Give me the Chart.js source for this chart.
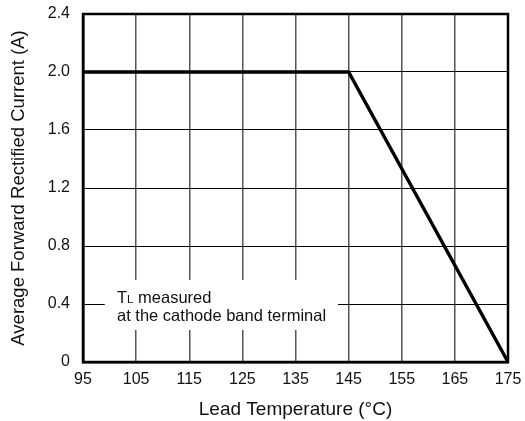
<!DOCTYPE html>
<html>
<head>
<meta charset="utf-8">
<script src="https://cdn.jsdelivr.net/npm/chart.js@4/dist/chart.umd.min.js"></script>
<style>
  html, body { margin: 0; padding: 0; background: #fff; }
  #wrap { width: 525px; height: 421px; }
</style>
</head>
<body>
<div id="wrap"><canvas id="derating"></canvas></div>
<script>
// derating curve
const leadTemp = [95, 145, 175];
const avgCurrent = [2.0, 2.0, 0];

const xTicks = [95, 105, 115, 125, 135, 145, 155, 165, 175];
const yTicks = [0, 0.4, 0.8, 1.2, 1.6, 2.0, 2.4];

const noteLines = ["measured", "at the cathode band terminal"];

const FONT = "'Liberation Sans', Arial, Helvetica, sans-serif";

// white box with the note, placed in axis units
const notePlugin = {
    id: "note",
    beforeDatasetsDraw(chart) {
        const { ctx, scales } = chart;
        const x0 = scales.x.getPixelForValue(99.1);
        const x1 = scales.x.getPixelForValue(143.0);
        const y0 = scales.y.getPixelForValue(0.566);
        const y1 = scales.y.getPixelForValue(0.221);
        ctx.save();
        ctx.fillStyle = "#fff";
        ctx.fillRect(x0, y0, x1 - x0, y1 - y0);
        ctx.fillStyle = "#111";
        ctx.textBaseline = "alphabetic";
        const tx = scales.x.getPixelForValue(101.4);
        const ty1 = scales.y.getPixelForValue(0.407);
        const ty2 = scales.y.getPixelForValue(0.283);
        ctx.font = "16.5px " + FONT;
        ctx.fillText("T", tx, ty1);
        let w = ctx.measureText("T").width;
        ctx.font = "11.5px " + FONT;
        ctx.fillText("L", tx + w, ty1);
        w += ctx.measureText("L").width;
        ctx.font = "16.5px " + FONT;
        ctx.fillText(" " + noteLines[0], tx + w, ty1);
        ctx.fillText(noteLines[1], tx, ty2);
        ctx.restore();
    },
    afterDraw(chart) {
        const { ctx, chartArea: a } = chart;
        ctx.save();
        ctx.strokeStyle = "#000";
        ctx.lineWidth = 2.5;
        ctx.strokeRect(a.left, a.top, a.right - a.left, a.bottom - a.top);
        ctx.restore();
    },
};

new Chart(document.getElementById("derating").getContext("2d"), {
    type: "line",
    data: {
        datasets: [
            {
                data: leadTemp.map((t, i) => ({ x: t, y: avgCurrent[i] })),
                borderColor: "#000",
                borderWidth: 3.4,
                pointRadius: 0,
                fill: false,
                tension: 0,
            },
        ],
    },
    options: {
        responsive: true,
        maintainAspectRatio: false,
        animation: false,
        layout: { padding: { top: 14, right: 17, bottom: 0, left: 0 } },
        plugins: { legend: { display: false }, tooltip: { enabled: false } },
        scales: {
            x: {
                type: "linear",
                min: 95,
                max: 175,
                afterBuildTicks: (s) => { s.ticks = xTicks.map((v) => ({ value: v })); },
                afterFit: (s) => {
                    s.height = 59;
                    s.paddingLeft = 0;
                    s.paddingRight = 0;
                },
                grid: { color: "#555", lineWidth: 1.5, drawTicks: false },
                border: { color: "#000", width: 2.5 },
                ticks: {
                    color: "#111",
                    padding: 8,
                    font: { family: FONT, size: 16 },
                    maxRotation: 0,
                },
                title: {
                    display: true,
                    text: "Lead Temperature (°C)",
                    color: "#111",
                    font: { family: FONT, size: 19 },
                    padding: { top: 4, bottom: 0 },
                },
            },
            y: {
                min: 0,
                max: 2.4,
                afterBuildTicks: (s) => { s.ticks = yTicks.map((v) => ({ value: v })); },
                afterFit: (s) => {
                    s.width = 83;
                    s.paddingTop = 0;
                    s.paddingBottom = 0;
                },
                grid: { color: "#000", lineWidth: 1, drawTicks: false },
                border: { color: "#000", width: 2.5 },
                ticks: {
                    color: "#111",
                    padding: 13,
                    font: { family: FONT, size: 16 },
                    callback: (v) => (v === 0 ? "0" : v.toFixed(1)),
                },
                title: {
                    display: true,
                    text: "Average Forward Rectified Current (A)",
                    color: "#111",
                    font: { family: FONT, size: 18.5 },
                    padding: { top: 8, bottom: 0 },
                },
            },
        },
    },
    plugins: [notePlugin],
});
</script>
</body>
</html>
